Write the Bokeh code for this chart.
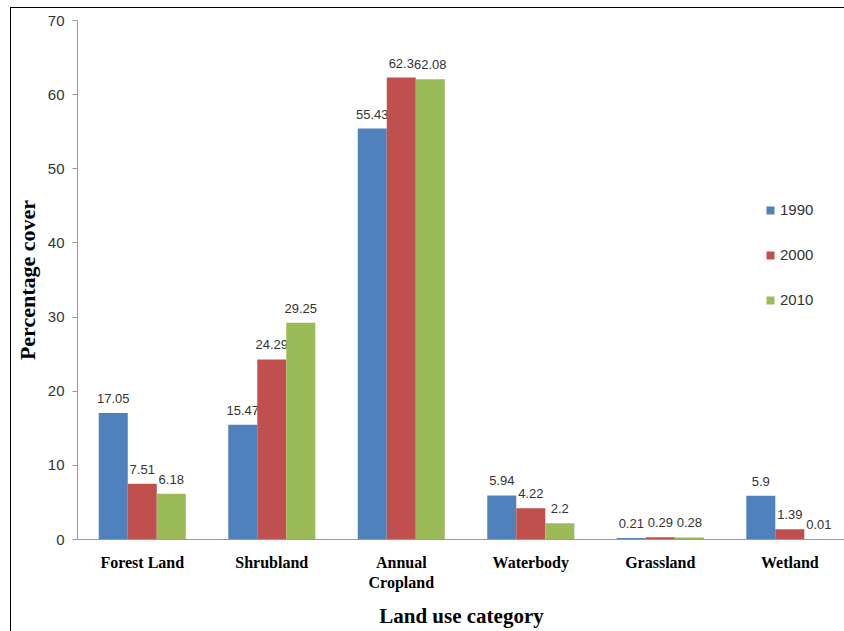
import numpy as np
from bokeh.plotting import figure
from bokeh.models import Range1d, FixedTicker, Legend, LegendItem, ColumnDataSource
from bokeh.core.properties import value
from bokeh.embed import file_html
from bokeh.resources import INLINE

categories = ["Forest Land", "Shrubland", "Annual\nCropland", "Waterbody", "Grassland", "Wetland"]
years = ["1990", "2000", "2010"]
v1990 = [17.05, 15.47, 55.43, 5.94, 0.21, 5.9]
v2000 = [7.51, 24.29, 62.3, 4.22, 0.29, 1.39]
v2010 = [6.18, 29.25, 62.08, 2.2, 0.28, 0.01]
y_ticks = [0, 10, 20, 30, 40, 50, 60, 70]

colors = ["#4F81BD", "#C0504D", "#9BBB59"]
series = [v1990, v2000, v2010]

p = figure(width=834, height=624, output_backend="svg", toolbar_location=None,
           x_range=Range1d(-0.5, 5.43), y_range=Range1d(0, 70),
           min_border_left=65, min_border_right=0, min_border_top=12, min_border_bottom=93)
p.styles = {"margin-left": "10px", "margin-top": "7px",
            "border-left": "1px solid black", "border-top": "1px solid black"}
p.outline_line_color = None
p.xgrid.visible = False
p.ygrid.visible = False

bw = 0.224
offsets = [-bw, 0.0, bw]
idx = np.arange(len(categories))
renderers = []
for vals, col, off in zip(series, colors, offsets):
    src = ColumnDataSource(dict(x=idx + off, top=vals, lab=[f"{v:g}" for v in vals]))
    r = p.vbar(x="x", top="top", width=bw, source=src, fill_color=col, line_color=None)
    renderers.append(r)
    p.text(x="x", y="top", text="lab", source=src, text_align="center",
           text_baseline="bottom", y_offset=-10, text_font_size="13px",
           text_color="#333333", text_font=value("Liberation Sans"))

p.yaxis.ticker = FixedTicker(ticks=y_ticks)
p.yaxis.minor_tick_line_color = None
p.yaxis.major_tick_out = 5
p.yaxis.major_tick_in = 0
p.yaxis.axis_line_color = "#9a9a9a"
p.yaxis.major_tick_line_color = "#9a9a9a"
p.yaxis.major_label_text_font = "Liberation Sans"
p.yaxis.major_label_text_font_size = "15px"
p.yaxis.major_label_text_color = "#333333"
p.yaxis.major_label_standoff = 8
p.yaxis.axis_label = "Percentage cover"
p.yaxis.axis_label_text_font = "Liberation Serif"
p.yaxis.axis_label_text_font_style = "bold"
p.yaxis.axis_label_text_font_size = "22px"
p.yaxis.axis_label_text_color = "#000000"
p.yaxis.axis_label_standoff = 5

p.xaxis.ticker = FixedTicker(ticks=list(range(len(categories))))
p.xaxis.major_label_overrides = {i: c for i, c in enumerate(categories)}
p.xaxis.minor_tick_line_color = None
p.xaxis.major_tick_line_color = None
p.xaxis.axis_line_color = "#9a9a9a"
p.xaxis.major_label_text_font = "Liberation Serif"
p.xaxis.major_label_text_font_style = "bold"
p.xaxis.major_label_text_font_size = "16px"
p.xaxis.major_label_text_color = "#000000"
p.xaxis.major_label_standoff = 8
p.xaxis.axis_label = "Land use category"
p.xaxis.axis_label_text_font = "Liberation Serif"
p.xaxis.axis_label_text_font_style = "bold"
p.xaxis.axis_label_text_font_size = "21px"
p.xaxis.axis_label_text_color = "#000000"
p.xaxis.axis_label_standoff = 10

legend = Legend(items=[LegendItem(label=y, renderers=[r]) for y, r in zip(years, renderers)],
                location=(688, 231), padding=0, margin=0, spacing=28,
                glyph_width=10, glyph_height=10, label_height=14,
                label_text_font="Liberation Sans", label_text_font_size="15px",
                label_text_color="#333333", label_standoff=5,
                border_line_color=None, background_fill_alpha=0)
p.add_layout(legend)

open("out.html", "w").write(file_html(p, INLINE))
